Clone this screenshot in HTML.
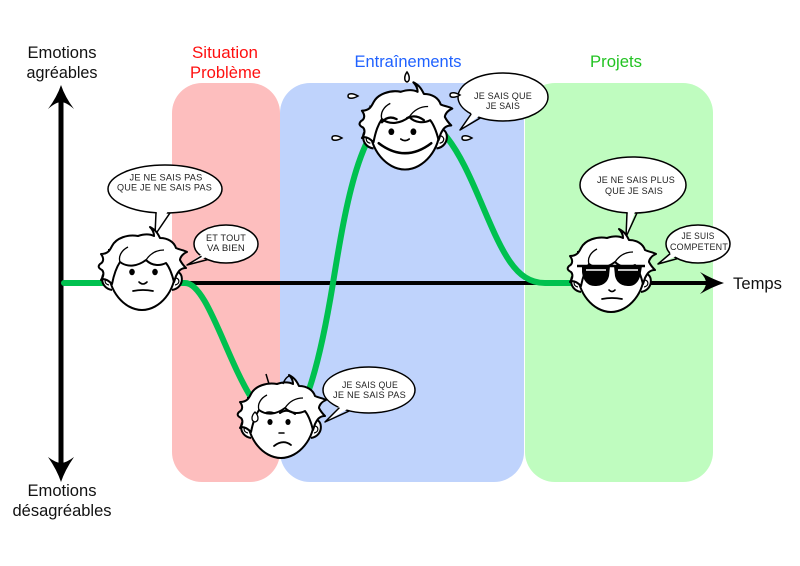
<!DOCTYPE html>
<html>
<head>
<meta charset="utf-8">
<style>
  html,body{margin:0;padding:0;background:#fff;}
  svg{display:block;}
  .lab{font-family:"Liberation Sans",sans-serif;font-size:17px;}
  .bt{font-family:"Liberation Sans",sans-serif;font-size:8.8px;fill:#222;letter-spacing:0.2px;}
</style>
</head>
<body>
<svg xmlns="http://www.w3.org/2000/svg" xmlns:xlink="http://www.w3.org/1999/xlink" width="800" height="566" viewBox="0 0 800 566">
  <defs>
    <g id="ears">
      <path d="M-31,-8 C-42,-12 -44,8 -30,10" fill="#fff" stroke="#000" stroke-width="2"/>
      <path d="M31,-8 C42,-12 44,8 30,10" fill="#fff" stroke="#000" stroke-width="2"/>
      <path d="M-34,-2 C-38,-1 -38,4 -33,5" fill="none" stroke="#000" stroke-width="1.2"/>
      <path d="M34,-2 C38,-1 38,4 33,5" fill="none" stroke="#000" stroke-width="1.2"/>
    </g>
    <path id="jaw" d="M-33,-30 L-33,-10 C-34,10 -18,30 0,30 C18,30 34,10 33,-10 L33,-30Z" fill="#fff" stroke="#000" stroke-width="2"/>
    <g id="hair">
      <path d="M-30,4 C-34,0 -38,-2 -41,0 C-38,-4 -38,-8 -40,-10 C-44,-12 -44,-14 -42,-16 C-38,-18 -38,-22 -41,-26 C-34,-26 -32,-30 -30,-34 C-26,-42 -14,-46 -4,-44 C2,-46 8,-46 12,-44 C12,-48 10,-51 8,-53 C14,-50 16,-46 18,-42 C26,-42 32,-38 34,-32 C38,-30 42,-30 45,-28 C40,-26 38,-22 38,-20 C40,-16 42,-14 44,-12 C38,-12 36,-8 34,-4 L32,2 C30,-6 28,-12 24,-17 C18,-14 10,-14 4,-20 C-4,-14 -14,-12 -22,-18 C-26,-12 -28,-6 -30,4Z" fill="#fff" stroke="#000" stroke-width="2" stroke-linejoin="round"/>
      <path d="M-22,-18 C-24,-24 -20,-30 -14,-33" fill="none" stroke="#000" stroke-width="1.3"/>
      <path d="M4,-20 C8,-26 14,-30 22,-30" fill="none" stroke="#000" stroke-width="1.3"/>
    </g>
    <path id="drop" d="M-5,0 C-5,-3 0,-3 5,0 C0,3 -5,3 -5,0Z" fill="#fff" stroke="#000" stroke-width="1.5"/>
  </defs>

  <rect width="800" height="566" fill="#fff"/>

  <!-- phase boxes -->
  <rect x="172" y="83" width="108" height="399" rx="30" fill="#fdbebe"/>
  <rect x="280" y="83" width="244" height="399" rx="30" fill="#bfd3fc"/>
  <rect x="525" y="83" width="188" height="399" rx="30" fill="#bffcbf"/>

  <!-- labels -->
  <text class="lab" x="62" y="58" text-anchor="middle" textLength="69" lengthAdjust="spacingAndGlyphs" fill="#111">Emotions</text>
  <text class="lab" x="62" y="78" text-anchor="middle" textLength="71" lengthAdjust="spacingAndGlyphs" fill="#111">agréables</text>
  <text class="lab" x="225" y="58" text-anchor="middle" textLength="66" lengthAdjust="spacingAndGlyphs" fill="#ff1010">Situation</text>
  <text class="lab" x="225.5" y="78" text-anchor="middle" textLength="71" lengthAdjust="spacingAndGlyphs" fill="#ff1010">Problème</text>
  <text class="lab" x="408" y="67" text-anchor="middle" textLength="107" lengthAdjust="spacingAndGlyphs" fill="#2062ff">Entraînements</text>
  <text class="lab" x="616" y="67" text-anchor="middle" textLength="52" lengthAdjust="spacingAndGlyphs" fill="#22c322">Projets</text>
  <text class="lab" x="733" y="289" textLength="49" lengthAdjust="spacingAndGlyphs" fill="#111">Temps</text>
  <text class="lab" x="62" y="496" text-anchor="middle" textLength="69" lengthAdjust="spacingAndGlyphs" fill="#111">Emotions</text>
  <text class="lab" x="62" y="516" text-anchor="middle" textLength="99" lengthAdjust="spacingAndGlyphs" fill="#111">désagréables</text>

  <!-- axes -->
  <line x1="61" y1="100" x2="61" y2="466" stroke="#000" stroke-width="5"/>
  <path d="M61,85 Q65,97 74,109 Q66,102 61,102 Q56,102 48,109 Q57,97 61,85Z" fill="#000"/>
  <path d="M61,482 Q65,470 74,457 Q66,463 61,463 Q56,463 48,457 Q57,470 61,482Z" fill="#000"/>
  <line x1="61" y1="283" x2="707" y2="283" stroke="#000" stroke-width="4"/>
  <path d="M724,283 Q712,287 700,294 Q706,288 706,283 Q706,278 700,272 Q712,279 724,283Z" fill="#000"/>

  <!-- emotion curve -->
  <path d="M64,283 L185,283 C215,283 240,425 285,425 C305,425 322,350 333,283 C344,216 360,112 400,112 C440,112 459.6,152 480,200 C502,252 515,283 545,283 L578,283" fill="none" stroke="#00c14f" stroke-width="6" stroke-linecap="round" stroke-linejoin="round"/>

  <!-- bubble 1 -->
  <ellipse cx="165" cy="189" rx="57" ry="24" fill="#fff" stroke="#000" stroke-width="1.5"/>
  <polygon points="157,209 169,209 155,235" fill="#fff"/>
  <polyline points="156,212.7 155,235 170,212.9" fill="none" stroke="#000" stroke-width="1.5" stroke-linejoin="round"/>
  <text class="bt" x="166" y="180.5" text-anchor="middle" textLength="73" lengthAdjust="spacingAndGlyphs">JE NE SAIS PAS</text>
  <text class="bt" x="164.5" y="190.5" text-anchor="middle" textLength="95" lengthAdjust="spacingAndGlyphs">QUE JE NE SAIS PAS</text>

  <!-- bubble 2 -->
  <ellipse cx="226" cy="244" rx="32" ry="19" fill="#fff" stroke="#000" stroke-width="1.5"/>
  <polygon points="209,256 203,253 187,265" fill="#fff"/>
  <polyline points="207.6,259.6 187,265 201.5,256.2" fill="none" stroke="#000" stroke-width="1.5" stroke-linejoin="round"/>
  <text class="bt" x="226" y="241" text-anchor="middle" textLength="40" lengthAdjust="spacingAndGlyphs">ET TOUT</text>
  <text class="bt" x="226" y="251" text-anchor="middle" textLength="38" lengthAdjust="spacingAndGlyphs">VA BIEN</text>

  <!-- bubble 3 -->
  <ellipse cx="503" cy="97" rx="45" ry="24" fill="#fff" stroke="#000" stroke-width="1.5"/>
  <polygon points="482,114 473,111 460,130" fill="#fff"/>
  <polyline points="480.5,117.8 460,130 471.2,114" fill="none" stroke="#000" stroke-width="1.5" stroke-linejoin="round"/>
  <text class="bt" x="503" y="99" text-anchor="middle" textLength="58" lengthAdjust="spacingAndGlyphs">JE SAIS QUE</text>
  <text class="bt" x="503" y="109" text-anchor="middle" textLength="34" lengthAdjust="spacingAndGlyphs">JE SAIS</text>

  <!-- bubble 4 -->
  <ellipse cx="369" cy="390" rx="46" ry="23" fill="#fff" stroke="#000" stroke-width="1.5"/>
  <polygon points="351,407 341,404 325,422" fill="#fff"/>
  <polyline points="349.5,410.8 325,422 339.4,407.6" fill="none" stroke="#000" stroke-width="1.5" stroke-linejoin="round"/>
  <text class="bt" x="370" y="388" text-anchor="middle" textLength="56" lengthAdjust="spacingAndGlyphs">JE SAIS QUE</text>
  <text class="bt" x="369.5" y="398" text-anchor="middle" textLength="73" lengthAdjust="spacingAndGlyphs">JE NE SAIS PAS</text>

  <!-- bubble 5 -->
  <ellipse cx="633" cy="185" rx="53" ry="28" fill="#fff" stroke="#000" stroke-width="1.5"/>
  <polygon points="628,209 636,209 626,237" fill="#fff"/>
  <polyline points="627,212.8 626,237 637,212.9" fill="none" stroke="#000" stroke-width="1.5" stroke-linejoin="round"/>
  <text class="bt" x="636" y="183" text-anchor="middle" textLength="78" lengthAdjust="spacingAndGlyphs">JE NE SAIS PLUS</text>
  <text class="bt" x="634" y="194" text-anchor="middle" textLength="58" lengthAdjust="spacingAndGlyphs">QUE JE SAIS</text>

  <!-- bubble 6 -->
  <ellipse cx="698" cy="244" rx="32" ry="19" fill="#fff" stroke="#000" stroke-width="1.5"/>
  <polygon points="679,255 672,251 658,264" fill="#fff"/>
  <polyline points="677.4,258.6 658,264 670.3,253.5" fill="none" stroke="#000" stroke-width="1.5" stroke-linejoin="round"/>
  <text class="bt" x="698" y="239" text-anchor="middle" textLength="33" lengthAdjust="spacingAndGlyphs">JE SUIS</text>
  <text class="bt" x="699" y="250" text-anchor="middle" textLength="58" lengthAdjust="spacingAndGlyphs">COMPETENT</text>

  <!-- face 1: neutral -->
  <g transform="translate(142,280)">
    <use xlink:href="#ears"/><use xlink:href="#jaw"/><use xlink:href="#hair"/>
    <ellipse cx="-10" cy="-8" rx="2.8" ry="3.2" fill="#000"/>
    <ellipse cx="13" cy="-8" rx="2.8" ry="3.2" fill="#000"/>
    <path d="M-3,2 Q1,6 5,2" fill="none" stroke="#000" stroke-width="1.6" stroke-linecap="round"/>
    <path d="M-9,11 Q1,9 11,11" fill="none" stroke="#000" stroke-width="1.8" stroke-linecap="round"/>
  </g>

  <!-- face 2: worried -->
  <g transform="translate(281,428)">
    <use xlink:href="#ears"/><use xlink:href="#jaw"/><use xlink:href="#hair"/>
    <path d="M-12,-44 L-15,-54" stroke="#000" stroke-width="1.5"/>
    <path d="M2,-44 Q4,-50 8,-52" fill="none" stroke="#000" stroke-width="1.5"/>
    <ellipse cx="-11" cy="-6" rx="2.6" ry="3" fill="#000"/>
    <ellipse cx="7" cy="-6" rx="2.6" ry="3" fill="#000"/>
    <path d="M-1,-15 Q6,-20 14,-14" fill="none" stroke="#000" stroke-width="2" stroke-linecap="round"/>
    <path d="M-16,-15 Q-12,-17 -7,-15" fill="none" stroke="#000" stroke-width="1.5" stroke-linecap="round"/>
    <path d="M-2,5 L3,5" stroke="#000" stroke-width="1.5" stroke-linecap="round"/>
    <path d="M-7,18 Q2,11 10,17" fill="none" stroke="#000" stroke-width="1.8" stroke-linecap="round"/>
    <path d="M-26,-16 C-22,-12 -22,-7 -26,-6 C-30,-7 -30,-12 -26,-16Z" fill="#fff" stroke="#000" stroke-width="1.3"/>
  </g>

  <!-- face 3: happy -->
  <g transform="translate(405,138) scale(1.05)">
    <use xlink:href="#ears"/><use xlink:href="#jaw"/><use xlink:href="#hair"/>
    <ellipse cx="-13" cy="-6" rx="2.8" ry="3.2" fill="#000"/>
    <ellipse cx="8" cy="-6" rx="2.8" ry="3.2" fill="#000"/>
    <path d="M-22,-15 Q-16,-22 -8,-18" fill="none" stroke="#000" stroke-width="2.2" stroke-linecap="round"/>
    <path d="M2,-19 Q10,-23 18,-17" fill="none" stroke="#000" stroke-width="2.2" stroke-linecap="round"/>
    <path d="M-4,1 Q0,4 4,1" fill="none" stroke="#000" stroke-width="1.6" stroke-linecap="round"/>
    <path d="M-25,5 Q0,24 25,5" fill="none" stroke="#000" stroke-width="2.4" stroke-linecap="round"/>
  </g>

  <!-- sweat drops -->
  <path d="M407,72 C410,76 410,81 407,82 C404,81 404,76 407,72Z" fill="#fff" stroke="#000" stroke-width="1.5"/>
  <use xlink:href="#drop" x="353" y="96"/>
  <use xlink:href="#drop" x="337" y="138"/>
  <use xlink:href="#drop" x="455" y="95"/>
  <use xlink:href="#drop" x="467" y="138"/>

  <!-- face 4: cool -->
  <g transform="translate(611,282)">
    <use xlink:href="#ears"/><use xlink:href="#jaw"/><use xlink:href="#hair"/>
    <path d="M-34,-16 L34,-16" stroke="#000" stroke-width="2.5"/>
    <path d="M-29,-16 L-1,-16 L-2,-6 C-4,2 -10,4 -16,4 C-24,4 -28,-2 -29,-10Z" fill="#000"/>
    <path d="M3,-16 L31,-16 L30,-10 C29,-2 25,4 18,4 C12,4 6,2 4,-6Z" fill="#000"/>
    <path d="M-25,-12 L-5,-12" stroke="#fff" stroke-width="1.5"/>
    <path d="M7,-12 L27,-12" stroke="#fff" stroke-width="1.5"/>
    <path d="M-2,8 Q1,11 4,8" fill="none" stroke="#000" stroke-width="1.6" stroke-linecap="round"/>
    <path d="M-9,17 Q1,15 11,17" fill="none" stroke="#000" stroke-width="1.8" stroke-linecap="round"/>
  </g>
</svg>
</body>
</html>
